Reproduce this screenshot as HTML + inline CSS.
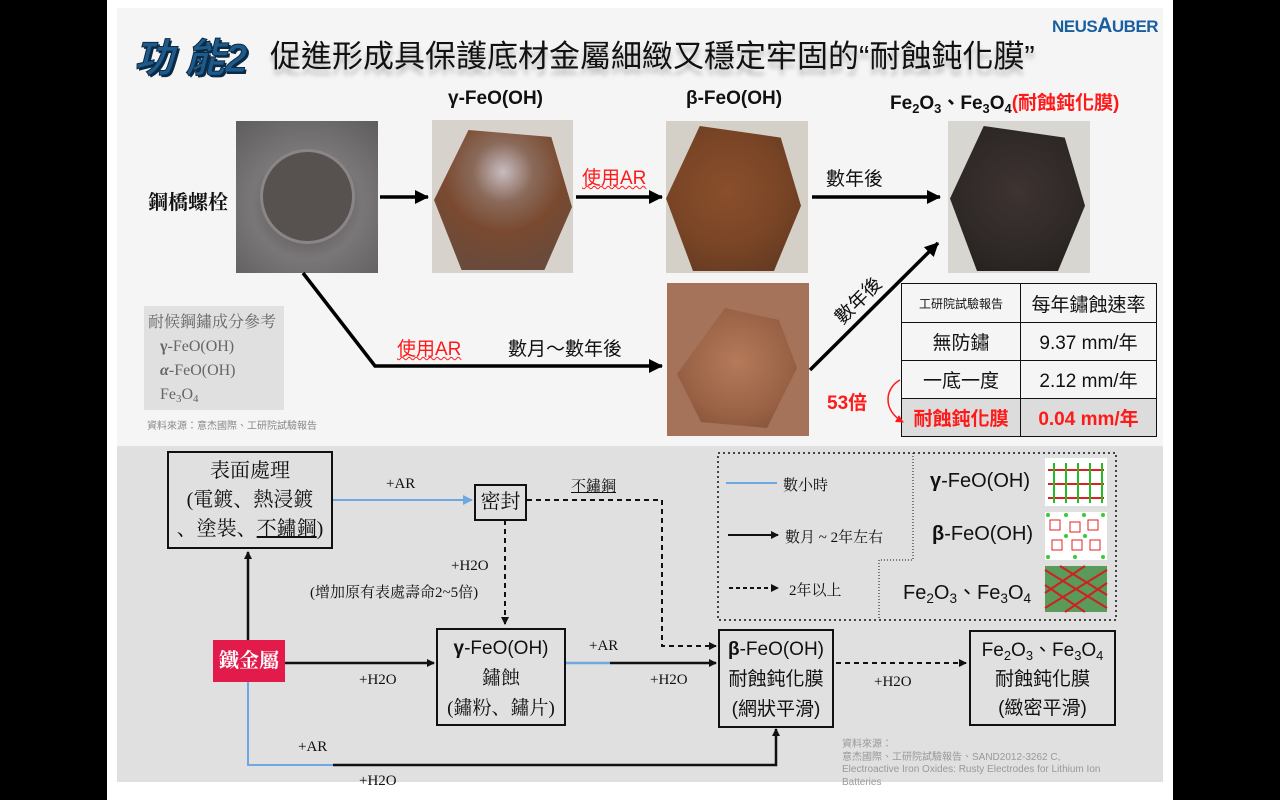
<!DOCTYPE html>
<html><head><meta charset="utf-8"><style>
*{margin:0;padding:0;box-sizing:border-box}
body{width:1280px;height:800px;background:#000;position:relative;overflow:hidden;font-family:"Liberation Sans","Noto Sans CJK TC",sans-serif;color:#111}
.a{position:absolute;white-space:nowrap}
.serif{font-family:"Liberation Serif","Noto Serif CJK SC",serif}
.box{position:absolute;border:2px solid #111;text-align:center;background:#e0e0e0}
.red{color:#ff1a1a}
.wavy{text-decoration:underline wavy #ff1a1a;text-decoration-thickness:1px}
.photo{position:absolute;overflow:hidden}
.sb{font-size:0.68em;position:relative;top:0.3em;line-height:0}
</style></head><body>
<div class="a" style="left:107px;top:0;width:1066px;height:800px;background:#fff"></div>
<div class="a" style="left:117px;top:8px;width:1046px;height:438px;background:#f5f5f5"></div>
<div class="a" style="left:117px;top:446px;width:1046px;height:336px;background:#e0e0e0"></div>

<!-- title -->
<div class="a" style="left:134px;top:26px;font-size:40px;font-weight:bold;font-style:italic;color:#1e5a8c;text-shadow:2px 2px 0 #0a2a45;-webkit-text-stroke:1px #0a2a45">功 能2</div>
<div class="a" style="left:270px;top:31px;font-size:31px;color:#111;text-shadow:0 6px 5px rgba(0,0,0,0.25)">促進形成具保護底材金屬細緻又穩定牢固的“耐蝕鈍化膜”</div>
<div class="a" style="left:1052px;top:14px;font-size:17px;font-weight:bold;color:#1a5fa0;letter-spacing:-0.5px">NEUS<span style="font-size:21px">A</span>UBER</div>

<div class="a" style="left:448px;top:88px;font-size:19px;font-weight:bold">γ-FeO(OH)</div>
<div class="a" style="left:686px;top:88px;font-size:19px;font-weight:bold">β-FeO(OH)</div>
<div class="a" style="left:890px;top:88px;font-size:19px;font-weight:bold">Fe<span class="sb">2</span>O<span class="sb">3</span>、Fe<span class="sb">3</span>O<span class="sb">4</span><span class="red">(耐蝕鈍化膜)</span></div>

<!-- photos -->
<div class="photo" style="left:236px;top:121px;width:142px;height:152px;background:radial-gradient(circle at 50% 55%,#5a5557 0,#6c6869 35%,#7a7778 50%,#5f5c5d 100%)">
<div class="a" style="left:24px;top:28px;width:95px;height:95px;border-radius:50%;border:3px solid #8a8687;background:#57514f"></div></div>
<div class="photo" style="left:432px;top:120px;width:141px;height:153px;background:#d8d2cc">
<div class="a" style="left:2px;top:10px;width:138px;height:140px;clip-path:polygon(25% 0,85% 5%,100% 55%,80% 100%,20% 100%,0 50%);background:radial-gradient(circle at 50% 30%,#c8bcc0 0,#8a6a5a 25%,#7a4a30 50%,#6a4a3a 80%)"></div></div>
<div class="photo" style="left:666px;top:121px;width:142px;height:152px;background:#d4d0c8">
<div class="a" style="left:0;top:5px;width:135px;height:145px;clip-path:polygon(25% 0,85% 8%,100% 55%,80% 100%,20% 100%,0 50%);background:radial-gradient(circle at 45% 45%,#8a4f2c 0,#7a4526 50%,#5a3520 100%)"></div></div>
<div class="photo" style="left:948px;top:121px;width:142px;height:152px;background:#d8d6d0">
<div class="a" style="left:2px;top:5px;width:135px;height:145px;clip-path:polygon(25% 0,85% 8%,100% 55%,80% 100%,20% 100%,0 50%);background:radial-gradient(circle at 50% 45%,#3e3432 0,#2e2826 60%,#221e1d 100%)"></div></div>
<div class="photo" style="left:667px;top:283px;width:142px;height:153px;background:#a4735a">
<div class="a" style="left:10px;top:25px;width:120px;height:120px;clip-path:polygon(40% 0,85% 10%,100% 50%,75% 100%,20% 95%,0 55%);background:radial-gradient(circle at 50% 45%,#b47a5a 0,#9a6245 60%,#7a4a35 100%)"></div></div>

<div class="a serif" style="left:148px;top:186px;font-size:20px;font-weight:bold">鋼橋螺栓</div>
<div class="a red wavy" style="left:582px;top:163px;font-size:19px">使用AR</div>
<div class="a" style="left:826px;top:164px;font-size:19px">數年後</div>
<div class="a red wavy" style="left:397px;top:334px;font-size:19px">使用AR</div>
<div class="a" style="left:508px;top:334px;font-size:19px">數月～數年後</div>
<div class="a" style="left:829px;top:286px;font-size:19px;transform:rotate(-45deg);transform-origin:center">數年後</div>

<!-- legend box -->
<div class="a serif" style="left:144px;top:306px;width:140px;height:104px;background:#e0e0e0;color:#666;font-size:16px;line-height:24px;padding:5px 0 0 4px">耐候鋼鏽成分參考<br>&nbsp;&nbsp;&nbsp;<b>γ</b>-FeO(OH)<br>&nbsp;&nbsp;&nbsp;<b><i>α</i></b>-FeO(OH)<br>&nbsp;&nbsp;&nbsp;Fe<span class="sb">3</span>O<span class="sb">4</span></div>
<div class="a" style="left:147px;top:417px;font-size:10px;color:#888">資料來源：意杰國際、工研院試驗報告</div>

<!-- table -->
<table class="a" style="left:901px;top:283px;width:256px;height:154px;border-collapse:collapse;font-size:19px;text-align:center">
<tr style="height:39px"><td style="border:1.5px solid #111;width:119px;font-size:12px">工研院試驗報告</td><td style="border:1.5px solid #111">每年鏽蝕速率</td></tr>
<tr style="height:38px"><td style="border:1.5px solid #111">無防鏽</td><td style="border:1.5px solid #111">9.37 mm/年</td></tr>
<tr style="height:38px"><td style="border:1.5px solid #111">一底一度</td><td style="border:1.5px solid #111">2.12 mm/年</td></tr>
<tr style="height:38px;background:#dcdcdc;color:#ff1a1a;font-weight:bold"><td style="border:1.5px solid #111">耐蝕鈍化膜</td><td style="border:1.5px solid #111">0.04 mm/年</td></tr>
</table>
<div class="a red" style="left:827px;top:388px;font-size:19px;font-weight:bold">53倍</div>

<svg class="a" style="left:0;top:0" width="1280" height="800">
<defs>
<marker id="ar" markerWidth="8" markerHeight="8" refX="7" refY="4" orient="auto" markerUnits="userSpaceOnUse"><path d="M0,0 L8,4 L0,8z" fill="#111"/></marker>
<marker id="ab" markerWidth="14" markerHeight="14" refX="13" refY="7" orient="auto" markerUnits="userSpaceOnUse"><path d="M0,0 L14,7 L0,14z" fill="#000"/></marker>
<marker id="abl" markerWidth="10" markerHeight="10" refX="9" refY="5" orient="auto" markerUnits="userSpaceOnUse"><path d="M0,0 L10,5 L0,10z" fill="#6fa8e0"/></marker>
<marker id="rr" markerWidth="8" markerHeight="8" refX="7" refY="4" orient="auto" markerUnits="userSpaceOnUse"><path d="M0,0 L8,4 L0,8z" fill="#ff1a1a"/></marker>
</defs>
<g stroke="#000" stroke-width="3.5" fill="none">
<path d="M380,197 H428" marker-end="url(#ab)"/>
<path d="M576,197 H662" marker-end="url(#ab)"/>
<path d="M812,197 H940" marker-end="url(#ab)"/>
<path d="M303,273 L375,366 H662" marker-end="url(#ab)"/>
<path d="M810,370 L938,243" marker-end="url(#ab)"/>
</g>
<path d="M900,380 C885,388 882,410 903,422" stroke="#ff1a1a" stroke-width="1.5" fill="none" marker-end="url(#rr)"/>
<!-- bottom -->
<g stroke-width="2" fill="none">
<path d="M333,500 H472" stroke="#6fa8e0" marker-end="url(#abl)"/>
<path d="M527,500 H662 V646 H716" stroke="#111" stroke-dasharray="5,4" marker-end="url(#ar)"/>
<path d="M505,520 V624" stroke="#111" stroke-dasharray="5,4" marker-end="url(#ar)"/>
<path d="M248,640 V552" stroke="#111" stroke-width="2.5" marker-end="url(#ar)"/>
<path d="M285,663 H434" stroke="#111" stroke-width="2.5" marker-end="url(#ar)"/>
<path d="M565,663 H610" stroke="#6fa8e0" stroke-width="2.5"/>
<path d="M610,663 H716" stroke="#111" stroke-width="2.5" marker-end="url(#ar)"/>
<path d="M836,663 H966" stroke="#111" stroke-dasharray="5,4" stroke-width="2" marker-end="url(#ar)"/>
<path d="M248,682 V765 H333" stroke="#6fa8e0" stroke-width="2"/>
<path d="M333,765 H776 V729" stroke="#111" stroke-width="2.5" marker-end="url(#ar)"/>
<path d="M718,453 H1116 V620 H718 Z" stroke="#111" stroke-dasharray="2,3" stroke-width="1.5"/>
<path d="M913,453 V560 H879 V620" stroke="#111" stroke-dasharray="1,2" stroke-width="1"/>
<path d="M726,483 H777" stroke="#6fa8e0" stroke-width="2"/>
<path d="M728,535 H778" stroke="#111" stroke-width="2" marker-end="url(#ar)"/>
<path d="M729,588 H778" stroke="#111" stroke-width="2" stroke-dasharray="4,3" marker-end="url(#ar)"/>
</g>
<!-- crystal images -->
<rect x="1045" y="458" width="62" height="48" fill="#fff"/>
<g stroke="#e02020" stroke-width="2"><path d="M1048,470 H1104 M1048,484 H1104 M1048,498 H1104"/></g>
<g stroke="#22bb22" stroke-width="2"><path d="M1054,463 V503 M1066,463 V503 M1078,463 V503 M1090,463 V503 M1102,463 V503"/></g>
<rect x="1045" y="512" width="62" height="48" fill="#fff"/>
<g stroke="#e02020" stroke-width="1" fill="none"><path d="M1050,520 h10 v10 h-10z M1070,522 h10 v10 h-10z M1088,520 h10 v10 h-10z M1052,540 h10 v10 h-10z M1072,540 h10 v10 h-10z M1090,540 h10 v10 h-10z"/></g>
<g fill="#33cc33"><circle cx="1048" cy="515" r="2"/><circle cx="1066" cy="515" r="2"/><circle cx="1084" cy="515" r="2"/><circle cx="1103" cy="515" r="2"/><circle cx="1066" cy="536" r="2"/><circle cx="1085" cy="536" r="2"/><circle cx="1048" cy="557" r="2"/><circle cx="1075" cy="557" r="2"/><circle cx="1103" cy="557" r="2"/></g>
<rect x="1045" y="566" width="62" height="46" fill="#5a9a5a"/>
<g stroke="#d02020" stroke-width="2"><path d="M1045,570 L1107,608 M1045,585 L1085,612 M1060,566 L1107,595 M1045,608 L1107,570 M1045,593 L1085,566 M1065,612 L1107,583"/></g>
</svg>

<!-- bottom boxes -->
<div class="box serif" style="left:167px;top:451px;width:166px;height:98px;font-size:20px;line-height:29px;padding-top:4px">表面處理<br>(電鍍、熱浸鍍<br>、塗裝、<u>不鏽鋼</u>)</div>
<div class="box serif" style="left:474px;top:484px;width:53px;height:37px;font-size:20px;line-height:33px">密封</div>
<div class="a" style="left:213px;top:640px;width:72px;height:42px;background:#e31b4b;color:#fff;font-size:20px;line-height:42px;text-align:center;font-weight:bold;font-family:'Liberation Serif','Noto Serif CJK SC',serif">鐵金屬</div>
<div class="box" style="left:436px;top:628px;width:130px;height:98px;font-size:19px;line-height:30px;padding-top:4px"><b>γ</b>-FeO(OH)<br><span class="serif">鏽蝕<br>(鏽粉、鏽片)</span></div>
<div class="box" style="left:718px;top:629px;width:116px;height:99px;font-size:19px;line-height:30px;padding-top:4px"><b>β</b>-FeO(OH)<br>耐蝕鈍化膜<br>(網狀平滑)</div>
<div class="box" style="left:969px;top:630px;width:147px;height:96px;font-size:19px;line-height:29px;padding-top:4px">Fe<span class="sb">2</span>O<span class="sb">3</span>、Fe<span class="sb">3</span>O<span class="sb">4</span><br>耐蝕鈍化膜<br>(緻密平滑)</div>

<div class="a serif" style="left:386px;top:476px;font-size:15px">+AR</div>
<div class="a serif" style="left:571px;top:475px;font-size:15px;text-decoration:underline">不鏽鋼</div>
<div class="a serif" style="left:451px;top:558px;font-size:15px">+H2O</div>
<div class="a serif" style="left:310px;top:581px;font-size:15px">(增加原有表處壽命2~5倍)</div>
<div class="a serif" style="left:359px;top:672px;font-size:15px">+H2O</div>
<div class="a serif" style="left:589px;top:638px;font-size:15px">+AR</div>
<div class="a serif" style="left:650px;top:672px;font-size:15px">+H2O</div>
<div class="a serif" style="left:874px;top:674px;font-size:15px">+H2O</div>
<div class="a serif" style="left:298px;top:739px;font-size:15px">+AR</div>
<div class="a serif" style="left:359px;top:773px;font-size:15px">+H2O</div>

<div class="a serif" style="left:783px;top:474px;font-size:15px">數小時</div>
<div class="a serif" style="left:785px;top:526px;font-size:15px">數月 ~ 2年左右</div>
<div class="a serif" style="left:789px;top:579px;font-size:15px">2年以上</div>
<div class="a" style="left:930px;top:470px;font-size:20px"><b>γ</b>-FeO(OH)</div>
<div class="a" style="left:932px;top:523px;font-size:20px"><b>β</b>-FeO(OH)</div>
<div class="a" style="left:903px;top:576px;font-size:20px">Fe<span class="sb">2</span>O<span class="sb">3</span>、Fe<span class="sb">3</span>O<span class="sb">4</span></div>

<div class="a" style="left:842px;top:739px;font-size:10px;line-height:12.5px;color:#999">資料來源：<br>意杰國際、工研院試驗報告、SAND2012-3262 C,<br>Electroactive Iron Oxides: Rusty Electrodes for Lithium Ion<br>Batteries</div>
</body></html>
